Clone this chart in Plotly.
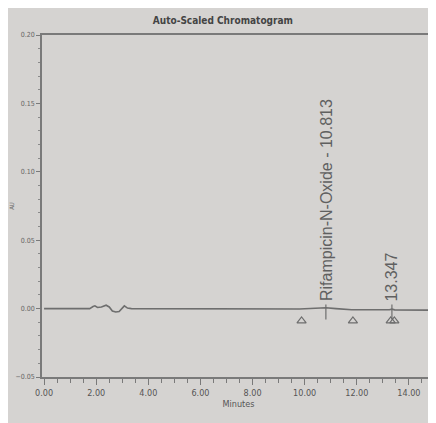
import plotly.graph_objects as go

# chromatogram trace (minutes, AU)
time_min = [0.0, 1.75, 1.88, 1.95, 2.05, 2.2, 2.38, 2.5, 2.62, 2.75, 2.88, 3.0, 3.08, 3.2, 3.35,
            9.8, 10.5, 10.813, 11.2, 11.8, 13.25, 13.347, 13.45, 15.0]
absorb_au = [0.0, 0.0, 0.0015, 0.002, 0.0008, 0.0012, 0.0025, 0.0012, -0.0018, -0.0025, -0.0022, 0.0008, 0.002, 0.0004, 0.0,
             -0.0003, 0.0, 0.0006, 0.0, -0.0008, -0.0008, -0.0004, -0.0009, -0.0012]

# peak labels
peak_times = [10.813, 13.347]
peak_labels = ["Rifampicin-N-Oxide - 10.813", "13.347"]

# integration start/end markers
marker_times = [9.88, 11.85, 13.3, 13.44]
marker_level = [-0.009, -0.009, -0.009, -0.009]

x_ticks = [0, 2, 4, 6, 8, 10, 12, 14]
y_ticks = [-0.05, 0.0, 0.05, 0.10, 0.15, 0.20]

NARROW = "Liberation Sans Narrow, DejaVu Sans Condensed, Arial Narrow, Arial"
GRAY = "#6e6e6e"

fig = go.Figure()
fig.add_trace(go.Scatter(x=time_min, y=absorb_au, mode="lines",
                         line=dict(color=GRAY, width=1.6), hoverinfo="skip"))
fig.add_trace(go.Scatter(x=marker_times, y=marker_level, mode="markers",
                         marker=dict(symbol="triangle-up-open", size=8,
                                     color=GRAY, line=dict(width=1.2, color=GRAY)),
                         hoverinfo="skip"))

for t, lab in zip(peak_times, peak_labels):
    fig.add_shape(type="line", x0=t, x1=t, y0=-0.008, y1=0.003,
                  xref="x", yref="y", line=dict(color=GRAY, width=1.2))
    fig.add_annotation(x=t, y=0.004, text=lab, textangle=-90, showarrow=False,
                       xanchor="center", yanchor="bottom",
                       font=dict(family="Liberation Sans, Arial", size=16, color="#606060"))

fig.update_layout(
    width=428, height=415,
    margin=dict(l=23, r=1, t=27, b=46),
    paper_bgcolor="#d5d3d1", plot_bgcolor="#d5d3d1",
    showlegend=False,
    title=dict(text="Auto-Scaled Chromatogram", x=0.502, xanchor="center", y=0.971, yanchor="middle",
               font=dict(family=NARROW, size=10, color="#444444", weight="bold")),
    xaxis=dict(range=[-0.08, 15.0], tickvals=x_ticks, tickformat=".2f",
               showgrid=False, zeroline=False, showline=True, linecolor="#7a7a7a", linewidth=1.6,
               mirror=True, ticks="outside", ticklen=6, tickcolor="#7a7a7a", tickwidth=1,
               minor=dict(dtick=0.5, ticks="outside", ticklen=4, tickcolor="#7a7a7a", tickwidth=1),
               tickfont=dict(family=NARROW, size=9, color="#555555"),
               title=dict(text="Minutes", standoff=4,
                          font=dict(family=NARROW, size=9, color="#555555"))),
    yaxis=dict(range=[-0.05, 0.20], tickvals=y_ticks, tickformat=".2f",
               showgrid=False, zeroline=False, showline=True, linecolor="#7a7a7a", linewidth=1.6,
               ticks="outside", ticklen=4, tickcolor="#7a7a7a", tickwidth=1,
               minor=dict(dtick=0.01, ticks="outside", ticklen=2, tickcolor="#8a8a8a", tickwidth=1),
               tickfont=dict(family=NARROW, size=7, color="#666666"),
               title=dict(text="AU", standoff=2,
                          font=dict(family=NARROW, size=6, color="#666666"))),
)

fig.write_html("out.html")
